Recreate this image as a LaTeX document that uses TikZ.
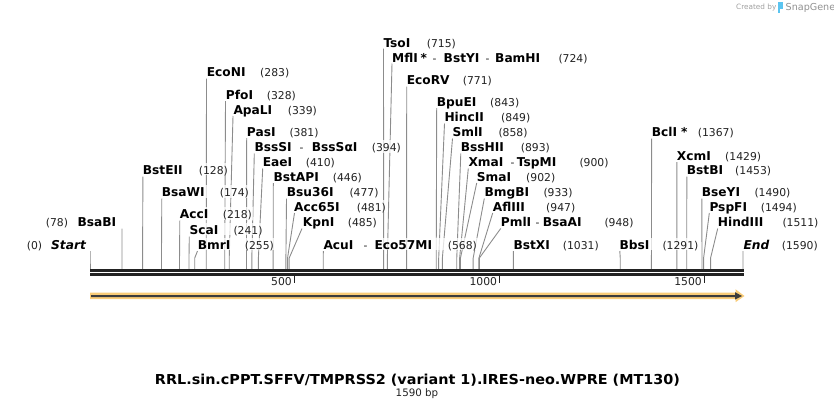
\documentclass[tikz,border=0pt]{standalone}
\usepackage{fontspec}
\setmainfont{DejaVu Sans}
\usepackage{graphicx}
\definecolor{lnclr}{HTML}{8C8C8C}
\definecolor{bbclr}{HTML}{222222}
\definecolor{arrowor}{HTML}{F9CC78}
\definecolor{arrowdk}{HTML}{3C3C3C}
\definecolor{numclr}{HTML}{222222}
\definecolor{sgblue}{HTML}{5BC4F0}
\definecolor{sggray}{HTML}{A0A0A0}
\tikzset{
 nmst/.style={anchor=base west, inner sep=0pt, font=\fontsize{12.2}{13}\selectfont\bfseries},
 itst/.style={anchor=base west, inner sep=0pt, font=\fontsize{12.2}{13}\selectfont\bfseries\itshape},
 numst/.style={anchor=base west, inner sep=0pt, font=\fontsize{10.8}{13}\selectfont, text=numclr},
 cutln/.style={draw=lnclr, line width=0.9pt},
 bgst/.style={fill=white, fill opacity=0.75},
 tickst/.style={draw=bbclr, line width=1.3pt},
 ticklab/.style={anchor=base east, inner sep=0pt, font=\fontsize{10.8}{13}\selectfont, text=numclr},
}
\newcounter{labn}
\newcommand\cutline[3]{\pgfmathsetmacro\cutX{90+#1*0.4107}\draw[cutln] (#2,#3) -- (\cutX,258) -- (\cutX,269.5);}
\newcommand\enzbg[3]{\fill[bgst] (#1-1,#3-7.2) rectangle (#2+1,#3+5.2);}
\newcommand\enz[3]{\stepcounter{labn}\node[nmst] (t\thelabn) at (#1,#2+4.3) {#3};}
\newcommand\enzi[3]{\stepcounter{labn}\node[itst] (t\thelabn) at (#1,#2+4.3) {#3};}
\newcommand\enznum[3]{\stepcounter{labn}\node[numst] (t\thelabn) at (#1,#2+4.3) {#3};}
\newcommand\enzdash[2]{\stepcounter{labn}\node[numst] (t\thelabn) at (#1,#2+4.3) {-};}
\begin{document}
\begin{tikzpicture}[x=1pt,y=-1pt]
\useasboundingbox (0,0) rectangle (834,408);
% cut site lines
\cutline{0}{90}{251}
\cutline{78}{122}{228.5}
\cutline{128}{142.9}{176.5}
\cutline{174}{161.8}{198.5}
\cutline{218}{179.8}{220.5}
\cutline{241}{189.3}{236.5}
\cutline{255}{197.5}{251}
\cutline{283}{206.5}{78.5}
\cutline{328}{225.5}{101}
\cutline{339}{233}{116}
\cutline{381}{246.7}{138}
\cutline{394}{254.3}{153.5}
\cutline{410}{262.7}{168.5}
\cutline{446}{273.3}{183}
\cutline{477}{286.5}{198.5}
\cutline{481}{294.5}{213}
\cutline{485}{302}{228.5}
\cutline{568}{323.3}{251}
\cutline{715}{383.5}{48.5}
\cutline{724}{392}{63.5}
\cutline{771}{406.7}{86.5}
\cutline{843}{436.7}{108}
\cutline{849}{444.5}{123.5}
\cutline{858}{452.5}{138.5}
\cutline{893}{460.8}{153.5}
\cutline{900}{468.3}{168.5}
\cutline{902}{476.7}{183}
\cutline{933}{484.3}{198.5}
\cutline{947}{492.7}{213}
\cutline{948}{500.7}{228.5}
\cutline{1031}{513.4}{251}
\cutline{1291}{619.8}{251}
\cutline{1367}{651.6}{138.5}
\cutline{1429}{676.9}{162}
\cutline{1453}{686.8}{176.5}
\cutline{1490}{701.9}{198.5}
\cutline{1494}{709.3}{213}
\cutline{1511}{717.7}{228.5}
\cutline{1590}{743}{251}
% backbone
\fill[bbclr] (90,268.8) rectangle (743.5,271.7);
\fill[bbclr] (90,273) rectangle (743.5,275.8);
\draw[tickst] (294.3,275.8) -- (294.3,283.3);
\draw[tickst] (499.5,275.8) -- (499.5,283.3);
\draw[tickst] (704.3,275.8) -- (704.3,283.3);
\node[ticklab] (k500) at (292,285.6) {500};
\node[ticklab] (k1000) at (497.2,285.6) {1000};
\node[ticklab] (k1500) at (702,285.6) {1500};
% feature arrow
\fill[arrowor] (90,292.6) -- (735.5,292.6) -- (735.5,289.2) -- (744.5,296) -- (735.5,302.2) -- (735.5,299.2) -- (90,299.2) -- cycle;
\fill[arrowdk] (91,295) -- (735,295) -- (735,292.2) -- (742,296) -- (735,299.6) -- (735,297.2) -- (91,297.2) -- cycle;
% labels
\enzbg{26.7}{84.5}{245}\enznum{26.7}{245}{(0)}\enzi{51}{245}{Start}
\enzbg{197.7}{274}{245}\enz{197.7}{245}{BmrI}\enznum{244.7}{245}{(255)}
\enzbg{323.3}{477.3}{245}\enz{323.3}{245}{AcuI}\enzdash{363.5}{245}\enz{374.3}{245}{Eco57MI}\enznum{447.7}{245}{(568)}
\enzbg{513.3}{599.3}{245}\enz{513.3}{245}{BstXI}\enznum{562.7}{245}{(1031)}
\enzbg{619.3}{699}{245}\enz{619.3}{245}{BbsI}\enznum{662.3}{245}{(1291)}
\enzbg{743.3}{818.3}{245}\enzi{743.3}{245}{End}\enznum{781.7}{245}{(1590)}
\enzbg{189.3}{263.3}{230}\enz{189.3}{230}{ScaI}\enznum{233.3}{230}{(241)}
\enzbg{45.7}{116.3}{222.3}\enznum{45.7}{222.3}{(78)}\enz{77.3}{222.3}{BsaBI}
\enzbg{302.7}{377.3}{222.3}\enz{302.7}{222.3}{KpnI}\enznum{347.7}{222.3}{(485)}
\enzbg{500.7}{634.3}{221.7}\enz{500.7}{221.7}{PmlI}\enzdash{535.5}{221.7}\enz{542.7}{221.7}{BsaAI}\enznum{604.3}{221.7}{(948)}
\enzbg{717.7}{819}{221.7}\enz{717.7}{221.7}{HindIII}\enznum{782.3}{221.7}{(1511)}
\enzbg{179.7}{252.3}{214.3}\enz{179.7}{214.3}{AccI}\enznum{222.7}{214.3}{(218)}
\enzbg{294}{386}{206.7}\enz{294}{206.7}{Acc65I}\enznum{356.7}{206.7}{(481)}
\enzbg{492.7}{575.3}{206.7}\enz{492.7}{206.7}{AflIII}\enznum{546}{206.7}{(947)}
\enzbg{709.3}{797.3}{206.7}\enz{709.3}{206.7}{PspFI}\enznum{760.7}{206.7}{(1494)}
\enzbg{161.7}{249.3}{192.3}\enz{161.7}{192.3}{BsaWI}\enznum{219.7}{192.3}{(174)}
\enzbg{286.7}{379}{192.3}\enz{286.7}{192.3}{Bsu36I}\enznum{349.3}{192.3}{(477)}
\enzbg{484.3}{573.3}{192.3}\enz{484.3}{192.3}{BmgBI}\enznum{543.3}{192.3}{(933)}
\enzbg{701.7}{791}{192.3}\enz{701.7}{192.3}{BseYI}\enznum{754.3}{192.3}{(1490)}
\enzbg{273.3}{361.7}{176.7}\enz{273.3}{176.7}{BstAPI}\enznum{332.7}{176.7}{(446)}
\enzbg{476.7}{556}{176.7}\enz{476.7}{176.7}{SmaI}\enznum{526}{176.7}{(902)}
\enzbg{142.7}{228.3}{170}\enz{142.7}{170}{BstEII}\enznum{198.7}{170}{(128)}
\enzbg{686.7}{772.3}{170}\enz{686.7}{170}{BstBI}\enznum{735}{170}{(1453)}
\enzbg{262.7}{335}{162.3}\enz{262.7}{162.3}{EaeI}\enznum{305.7}{162.3}{(410)}
\enzbg{468.3}{609.3}{162.3}\enz{468.3}{162.3}{XmaI}\enzdash{510.5}{162.3}\enz{516.7}{162.3}{TspMI}\enznum{579.3}{162.3}{(900)}
\enzbg{676.7}{761.7}{155.7}\enz{676.7}{155.7}{XcmI}\enznum{725}{155.7}{(1429)}
\enzbg{254.3}{401}{147.3}\enz{254.3}{147.3}{BssSI}\enzdash{299.5}{147.3}\enz{311.7}{147.3}{BssSαI}\enznum{371.7}{147.3}{(394)}
\enzbg{460.7}{550}{147.3}\enz{460.7}{147.3}{BssHII}\enznum{520.7}{147.3}{(893)}
\enzbg{246.7}{319}{131.7}\enz{246.7}{131.7}{PasI}\enznum{289.3}{131.7}{(381)}
\enzbg{452.3}{528.3}{132.3}\enz{452.3}{132.3}{SmlI}\enznum{498.3}{132.3}{(858)}
\enzbg{651.7}{734.3}{132}\enz{651.7}{132}{BclI}\enz{681}{132}{*}\enznum{697.7}{132}{(1367)}
\enzbg{444.3}{530.7}{117.3}\enz{444.3}{117.3}{HincII}\enznum{501}{117.3}{(849)}
\enzbg{233.3}{316.7}{110}\enz{233.3}{110}{ApaLI}\enznum{287.7}{110}{(339)}
\enzbg{436.7}{520}{101.7}\enz{436.7}{101.7}{BpuEI}\enznum{490}{101.7}{(843)}
\enzbg{225.7}{296}{95}\enz{225.7}{95}{PfoI}\enznum{266.7}{95}{(328)}
\enzbg{406.7}{492.7}{80.5}\enz{406.7}{80.5}{EcoRV}\enznum{462.7}{80.5}{(771)}
\enzbg{206.7}{289.3}{72.3}\enz{206.7}{72.3}{EcoNI}\enznum{260}{72.3}{(283)}
\enzbg{392}{590}{57.7}\enz{392}{57.7}{MflI}\enz{420.5}{57.7}{*}\enzdash{432.5}{57.7}\enz{443.5}{57.7}{BstYI}\enzdash{485.5}{57.7}\enz{495}{57.7}{BamHI}\enznum{558.3}{57.7}{(724)}
\enzbg{383.3}{456}{42.7}\enz{383.3}{42.7}{TsoI}\enznum{426.7}{42.7}{(715)}
% title
\node[anchor=base, inner sep=0pt] (title) at (417.5,384) {\resizebox{525pt}{\height}{\fontsize{13.7}{16}\selectfont\bfseries RRL.sin.cPPT.SFFV/TMPRSS2 (variant 1).IRES-neo.WPRE (MT130)}};
\node[anchor=base, inner sep=0pt, font=\fontsize{10.3}{12}\selectfont, text=numclr] (bp) at (417,396) {1590 bp};
% logo
\node[anchor=west, inner sep=0pt, font=\fontsize{7.3}{9}\selectfont, text=sggray] (cb) at (736,7.5) {Created by};
\fill[sgblue] (777.5,2) rectangle (783,8.5);
\fill[sgblue] (777.5,8.5) rectangle (780,13);
\node[anchor=west, inner sep=0pt, font=\fontsize{9.6}{11}\selectfont, text=sggray!90!black] (sg) at (785.5,7.5) {SnapGene};
\end{tikzpicture}
\end{document}
